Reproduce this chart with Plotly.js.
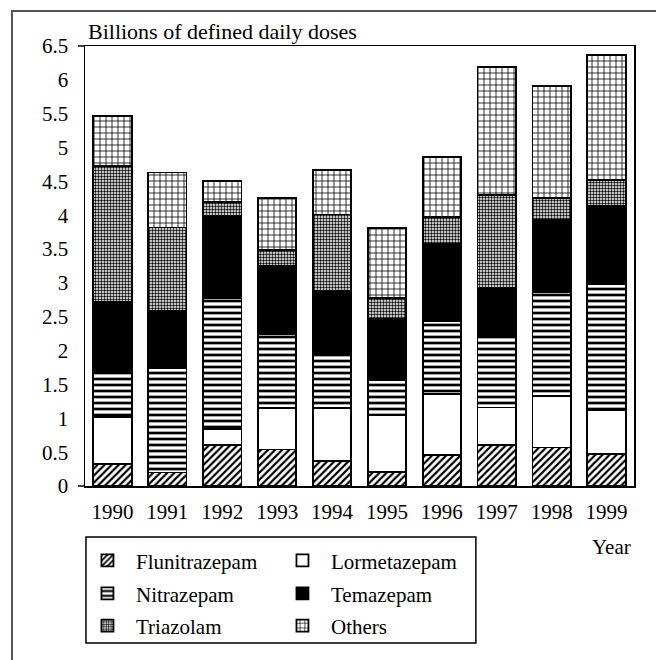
<!DOCTYPE html>
<html>
<head>
<meta charset="utf-8">
<script src="https://cdn.plot.ly/plotly-3.0.1.min.js"></script>
<style>html,body{margin:0;padding:0;background:#fff;}#chart{width:656px;height:660px;}</style>
</head>
<body>
<div id="chart"></div>
<script>
var years = ["1990","1991","1992","1993","1994","1995","1996","1997","1998","1999"];
var flunitrazepam = [0.32,0.20,0.60,0.54,0.37,0.21,0.46,0.60,0.57,0.47];
var lormetazepam  = [0.70,0.00,0.24,0.61,0.78,0.84,0.90,0.56,0.76,0.65];
var nitrazepam    = [0.65,1.54,1.94,1.10,0.78,0.52,1.07,1.04,1.54,1.86];
var temazepam     = [1.05,0.84,1.21,1.00,0.95,0.90,1.14,0.73,1.06,1.16];
var triazolam     = [2.01,1.24,0.21,0.24,1.13,0.31,0.40,1.37,0.33,0.38];
var others        = [0.74,0.81,0.30,0.76,0.66,1.03,0.89,1.89,1.65,1.85];
var yTicks = [0,0.5,1,1.5,2,2.5,3,3.5,4,4.5,5,5.5,6,6.5];

var F = "Liberation Serif, Times New Roman, serif";
var FS = 21;
function tr(name, y, color, pattern, legend) {
  var m = {color: color, line: {color: "#000", width: 1.8}};
  if (pattern) m.pattern = pattern;
  return {type: "bar", name: name, x: years, y: y, marker: m, legend: legend};
}
var data = [
  tr("Flunitrazepam", flunitrazepam, "#fff", {shape: "/", size: 5, solidity: 0.45, fgcolor: "#000", bgcolor: "#fff", fillmode: "replace"}, "legend"),
  tr("Lormetazepam", lormetazepam, "#fff", null, "legend"),
  tr("Nitrazepam", nitrazepam, "#fff", {shape: "-", size: 6, solidity: 0.45, fgcolor: "#000", bgcolor: "#fff", fillmode: "replace"}, "legend2"),
  tr("Temazepam", temazepam, "#000", null, "legend2"),
  tr("Triazolam", triazolam, "#fff", {shape: ".", size: 3, solidity: 0.5, fgcolor: "#000", bgcolor: "#fff", fillmode: "replace"}, "legend3"),
  tr("Others", others, "#fff", {shape: "+", size: 6, solidity: 0.25, fgcolor: "#000", bgcolor: "#fff", fillmode: "replace"}, "legend3")
];

function leg(y) {
  return {orientation: "h", x: -0.011, xanchor: "left", y: y, yanchor: "middle",
    entrywidth: 133, itemwidth: 47, bgcolor: "rgba(0,0,0,0)", borderwidth: 0,
    font: {family: F, size: FS, color: "#000"}, traceorder: "normal"};
}

var layout = {
  width: 656, height: 660,
  margin: {l: 85, r: 22, t: 46, b: 174},
  paper_bgcolor: "#fff", plot_bgcolor: "#fff",
  barmode: "stack", bargap: 0.3,
  font: {family: F, size: FS, color: "#000"},
  showlegend: true,
  xaxis: {type: "category", range: [-0.5, 9.5], showline: true, linecolor: "#000", linewidth: 1.5,
    mirror: true, ticks: "", ticklabelstandoff: 6, showgrid: false, zeroline: false, fixedrange: true,
    tickfont: {family: F, size: FS, color: "#000"}},
  yaxis: {range: [0, 6.5], tickvals: yTicks, ticktext: yTicks.map(String), showline: true, linecolor: "#000",
    linewidth: 1.5, mirror: true, ticks: "", ticklabelstandoff: 11, showgrid: false, zeroline: false,
    tickfont: {family: F, size: FS, color: "#000"}},
  legend: leg(-0.170),
  legend2: leg(-0.245),
  legend3: leg(-0.318),
  annotations: [
    {xref: "paper", yref: "paper", x: 0.002, y: 1.032, xanchor: "left", yanchor: "middle",
      text: "Billions of defined daily doses", showarrow: false, font: {family: F, size: 22, color: "#000"}},
    {xref: "paper", yref: "paper", x: 0.998, y: -0.138, xanchor: "right", yanchor: "middle",
      text: "Year", showarrow: false, font: {family: F, size: FS, color: "#000"}}
  ],
  shapes: [
    {type: "rect", xref: "paper", yref: "paper", x0: -0.133, x1: 1.2, y0: -0.6, y1: 1.0795,
      line: {color: "#555", width: 2}, fillcolor: "rgba(0,0,0,0)", layer: "below"},
    {type: "line", xref: "paper", yref: "paper", x0: -0.013, x1: 0, y0: 1, y1: 1, line: {color: "#000", width: 1.5}},
    {type: "line", xref: "paper", yref: "paper", x0: -0.013, x1: 0, y0: 0, y1: 0, line: {color: "#000", width: 1.5}},
    {type: "rect", xref: "paper", yref: "paper", x0: 0.0018, x1: 0.712, y0: -0.357, y1: -0.116,
      line: {color: "#000", width: 1.5}, fillcolor: "rgba(0,0,0,0)"}
  ]
};

Plotly.newPlot("chart", data, layout, {displayModeBar: false, staticPlot: true});
</script>
</body>
</html>
